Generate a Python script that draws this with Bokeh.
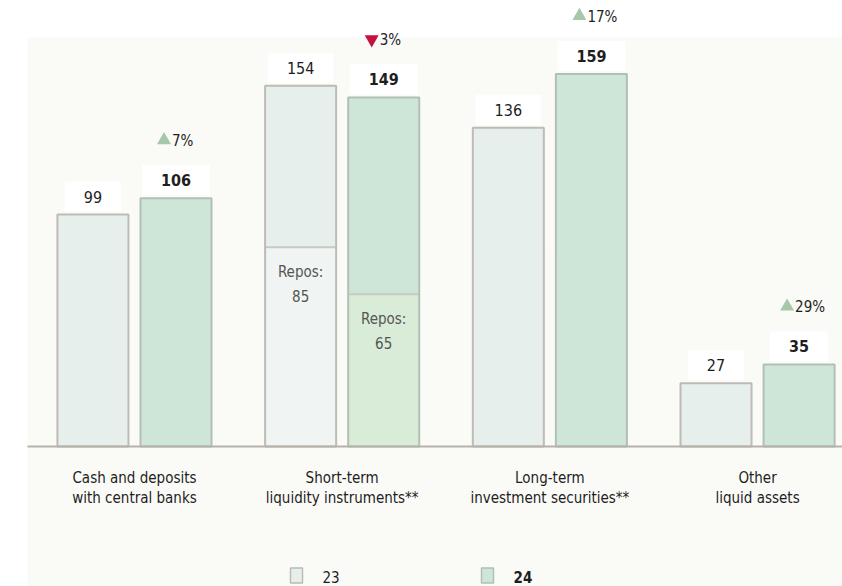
from bokeh.plotting import figure
from bokeh.models import Range1d
from bokeh.core.properties import value
from bokeh.embed import file_html
from bokeh.resources import INLINE

# ---------------- data ----------------
cat_line1 = ["Cash and deposits", "Short-term", "Long-term", "Other"]
cat_line2 = ["with central banks", "liquidity instruments**", "investment securities**", "liquid assets"]
years = ["23", "24"]
values_23 = [99, 154, 136, 27]
values_24 = [106, 149, 159, 35]
repos_23 = [None, 85, None, None]
repos_24 = [None, 65, None, None]
change_pct = [7, -3, 17, 29]

# ---------------- layout helpers ----------------
W, H = 842, 586
SX = 207.7          # px per category unit
X0 = -0.645         # data x at left edge
SY = 2.343          # px per value unit
YTOP = 190.35       # data y at top edge

def dx(px):
    return X0 + px / SX

def dy(py):
    return YTOP - py / SY

FONT = "DejaVu Sans Condensed, sans-serif"
TXT = "#1e1e1e"

p = figure(width=W, height=H, x_range=Range1d(X0, X0 + W / SX),
           y_range=Range1d(YTOP - H / SY, YTOP),
           x_axis_location=None, y_axis_location=None,
           toolbar_location=None, output_backend="svg", min_border=0)
p.grid.visible = False
p.outline_line_color = None
p.background_fill_color = "white"
p.border_fill_color = "white"

# faint panel background
p.quad(left=[dx(27)], right=[dx(W)], bottom=[dy(H)], top=[dy(37)],
       fill_color="#fafaf7", line_color=None)

bw = 0.342
off = 0.2
fill23, fill24 = "#e7efed", "#cde6d8"
rfill23, rfill24 = "#f0f4f2", "#d8ecd7"
line23, line24 = "#bdbbb4", "#b3bfb6"

xs = list(range(len(cat_line1)))
for yr, vals, rep, sgn, fc, rc, lc in [
        ("23", values_23, repos_23, -1, fill23, rfill23, line23),
        ("24", values_24, repos_24, 1, fill24, rfill24, line24)]:
    cx = [i + sgn * off for i in xs]
    # value labels with white boxes (drawn first, under the bar outline)
    p.text(x=cx, y=vals, text=[str(v) for v in vals], y_offset=-18,
           text_align="center", text_baseline="middle",
           text_font=value(FONT), text_font_size="16px",
           text_font_style="bold" if yr == "24" else "normal",
           text_color=TXT, background_fill_color="white", padding=(19, 9))
    for i, v in enumerate(vals):
        left, right = cx[i] - bw / 2, cx[i] + bw / 2
        r = rep[i]
        if r is None:
            p.quad(left=[left], right=[right], bottom=[0], top=[v],
                   fill_color=fc, line_color=None)
        else:
            p.quad(left=[left], right=[right], bottom=[0], top=[r],
                   fill_color=rc, line_color=None)
            p.quad(left=[left], right=[right], bottom=[r], top=[v],
                   fill_color=fc, line_color=None)
            p.segment(x0=[left], x1=[right], y0=[r], y1=[r],
                      line_color="#c9c9c2", line_width=2)
            p.text(x=[cx[i]], y=[r], text=["Repos:"], y_offset=25,
                   text_align="center", text_baseline="middle",
                   text_font=value(FONT), text_font_size="15px",
                   text_color="#555555")
            p.text(x=[cx[i]], y=[r], text=[str(r)], y_offset=49,
                   text_align="center", text_baseline="middle",
                   text_font=value(FONT), text_font_size="15px",
                   text_color="#555555")
        p.quad(left=[left], right=[right], bottom=[0], top=[v],
               fill_color=None, line_color=lc, line_width=2)

# change indicators above the 24 bars
cx24 = [i + off for i in xs]
for i, c in enumerate(change_pct):
    up = c >= 0
    p.scatter(x=[cx24[i] - 12 / SX], y=[values_24[i] + 58 / SY],
              marker="triangle" if up else "inverted_triangle", size=14,
              fill_color="#a6c7a9" if up else "#c4123f", line_color=None)
    p.text(x=[cx24[i]], y=[values_24[i]], text=[f"{abs(c)}%"],
           x_offset=-4, y_offset=-57, text_align="left", text_baseline="middle",
           text_font=value(FONT), text_font_size="15px", text_color=TXT)

# baseline
p.segment(x0=[dx(27)], x1=[dx(W)], y0=[0], y1=[0], line_color="#b5b2ab", line_width=2)

# category labels
p.text(x=xs, y=[0] * 4, text=cat_line1, y_offset=32, text_align="center",
       text_baseline="middle", text_font=value(FONT), text_font_size="15px", text_color=TXT)
p.text(x=xs, y=[0] * 4, text=cat_line2, y_offset=52, text_align="center",
       text_baseline="middle", text_font=value(FONT), text_font_size="15px", text_color=TXT)

# legend
for px, fc, lc, lab, style in [(296, fill23, line23, years[0], "normal"),
                               (487, fill24, line24, years[1], "bold")]:
    p.rect(x=[dx(px)], y=[dy(575)], width=12, height=15, width_units="screen",
           height_units="screen", fill_color=fc, line_color=lc, line_width=1.5)
    p.text(x=[dx(px + 26)], y=[dy(576)], text=[lab], text_align="left",
           text_baseline="middle", text_font=value(FONT), text_font_size="15px",
           text_font_style=style, text_color=TXT)

open("out.html", "w").write(file_html(p, INLINE))
